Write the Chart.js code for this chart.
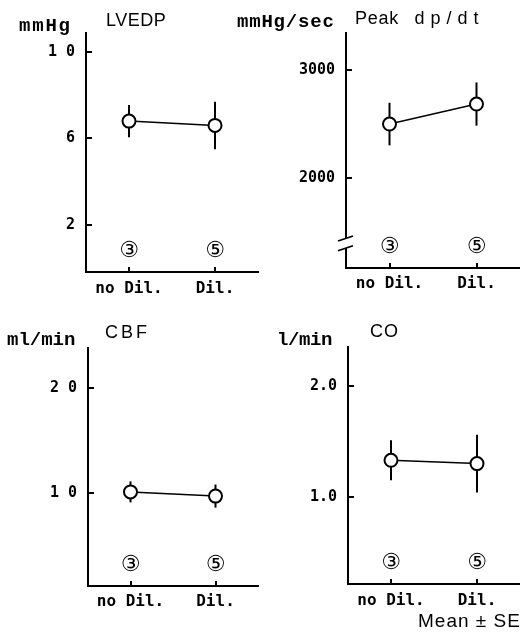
<!DOCTYPE html>
<html><head><meta charset="utf-8">
<script src="https://cdn.jsdelivr.net/npm/chart.js@4/dist/chart.umd.min.js"></script>
<style>
html,body{margin:0;padding:0;background:#fff;width:520px;height:644px;overflow:hidden;position:relative;}
canvas{position:absolute;}
.t{position:absolute;white-space:nowrap;color:#000;line-height:1;}
.sans{font-family:"Liberation Sans",Arial,sans-serif;font-size:18px;}
.mono{font-family:"Liberation Mono","DejaVu Sans Mono",monospace;font-weight:bold;font-size:19px;}
</style></head><body>
<canvas id="c1" width="260" height="300" style="left:0;top:0"></canvas>
<canvas id="c2" width="260" height="300" style="left:260px;top:0"></canvas>
<canvas id="c3" width="260" height="330" style="left:0;top:300px"></canvas>
<canvas id="c4" width="260" height="330" style="left:260px;top:300px"></canvas>

<div class="t mono" style="left:19px;top:17px;letter-spacing:1.8px">mmHg</div>
<div class="t sans" style="left:106px;top:11px;letter-spacing:0.5px">LVEDP</div>
<div class="t mono" style="left:237px;top:13px;letter-spacing:0.8px">mmHg/sec</div>
<div class="t sans" style="left:355px;top:9px;letter-spacing:0.7px">Peak <span style="letter-spacing:6px;margin-left:10px">dp/dt</span></div>
<div class="t mono" style="left:7px;top:331px;letter-spacing:0px">ml/min</div>
<div class="t sans" style="left:105px;top:323px;letter-spacing:3px">CBF</div>
<div class="t mono" style="left:277px;top:331px;letter-spacing:-0.4px">l/min</div>
<div class="t sans" style="left:370px;top:322px;letter-spacing:1px">CO</div>
<div class="t sans" style="left:418px;top:611px;font-size:19px;letter-spacing:1px">Mean ± SE</div>

<script>
const categories = ['no Dil.', 'Dil.'];
const nAnimals = [3, 5];

const lvedpMean = [6.8, 6.6];
const lvedpSE = [0.75, 1.1];
const dpdtMean = [2500, 2685];
const dpdtSE = [197, 200];
const cbfMean = [10.1, 9.7];
const cbfSE = [1.0, 1.1];
const coMean = [1.33, 1.30];
const coSE = [0.18, 0.26];

const lvedpTicks = [2, 6, 10];
const lvedpTickLabels = ['2', '6', '1 0'];
const dpdtTicks = [2000, 3000];
const dpdtTickLabels = ['2000', '3000'];
const cbfTicks = [10, 20];
const cbfTickLabels = ['1 0', '2 0'];
const coTicks = [1.0, 2.0];
const coTickLabels = ['1.0', '2.0'];

const circled = ['\u24EA','\u2460','\u2461','\u2462','\u2463','\u2464','\u2465','\u2466','\u2467','\u2468'];

const decor = {
  id: 'decor',
  beforeDatasetsDraw(chart, args, opts) {
    const ctx = chart.ctx, x = chart.scales.x, y = chart.scales.y;
    ctx.save();
    ctx.strokeStyle = '#000';
    ctx.lineWidth = 2;
    opts.mean.forEach((m, i) => {
      const px = x.getPixelForValue(i);
      ctx.beginPath();
      ctx.moveTo(px, y.getPixelForValue(m + opts.se[i]));
      ctx.lineTo(px, y.getPixelForValue(m - opts.se[i]));
      ctx.stroke();
    });
    ctx.restore();
  },
  afterDraw(chart, args, opts) {
    const ctx = chart.ctx, x = chart.scales.x, y = chart.scales.y, a = chart.chartArea;
    ctx.save();
    ctx.strokeStyle = '#000';
    ctx.lineWidth = 2;
    y.ticks.forEach((t, i) => {
      const py = Math.round(y.getPixelForTick(i));
      ctx.beginPath(); ctx.moveTo(a.left, py); ctx.lineTo(a.left + 6, py); ctx.stroke();
    });
    x.ticks.forEach((t, i) => {
      const px = Math.round(x.getPixelForTick(i));
      ctx.beginPath(); ctx.moveTo(px, a.bottom); ctx.lineTo(px, a.bottom - 5); ctx.stroke();
    });
    ctx.fillStyle = '#000';
    ctx.font = '22px "DejaVu Sans", "Noto Sans CJK JP", sans-serif';
    ctx.textAlign = 'center';
    ctx.textBaseline = 'middle';
    opts.n.forEach((n, i) => {
      ctx.fillText(circled[n], x.getPixelForValue(i), a.bottom - 21);
    });
    if (opts.breakAt) {
      const y1 = y.getPixelForValue(opts.breakAt[0]);
      const y2 = y.getPixelForValue(opts.breakAt[1]);
      ctx.fillStyle = '#fff';
      ctx.fillRect(a.left - 3, y1, 6, y2 - y1);
      ctx.lineWidth = 1.8;
      [y1, y2].forEach(py => {
        ctx.beginPath(); ctx.moveTo(a.left - 8, py + 2.5); ctx.lineTo(a.left + 7, py - 2.5); ctx.stroke();
      });
    }
    ctx.restore();
  }
};

function makeChart(id, mean, se, cfg) {
  const axisGrid = { display: true, drawOnChartArea: false, drawTicks: false };
  const axisBorder = { display: true, color: '#000', width: 2 };
  return new Chart(document.getElementById(id), {
    type: 'line',
    data: {
      labels: categories,
      datasets: [{
        data: mean,
        borderColor: '#000',
        borderWidth: 1.5,
        pointRadius: 6.5,
        pointBorderWidth: 2,
        pointBackgroundColor: '#fff',
        pointBorderColor: '#000',
        tension: 0,
        fill: false
      }]
    },
    options: {
      responsive: false,
      animation: false,
      devicePixelRatio: 1,
      layout: { autoPadding: false, padding: { top: cfg.top, right: cfg.right, left: 0, bottom: 0 } },
      plugins: {
        legend: { display: false },
        tooltip: { enabled: false },
        title: { display: false },
        decor: { mean: mean, se: se, n: nAnimals, breakAt: cfg.breakAt }
      },
      scales: {
        x: {
          type: 'category',
          offset: true,
          grid: axisGrid,
          border: axisBorder,
          ticks: { color: '#000', font: { family: '"DejaVu Sans Mono", monospace', weight: 'bold', size: 16 }, padding: cfg.xpad, maxRotation: 0 },
          afterFit: s => { s.height = cfg.xh; }
        },
        y: {
          type: 'linear',
          min: cfg.min,
          max: cfg.max,
          grid: axisGrid,
          border: axisBorder,
          afterBuildTicks: s => { s.ticks = cfg.ticks.map(v => ({ value: v })); },
          ticks: { color: '#000', font: { family: '"DejaVu Sans Mono", monospace', weight: 'bold', size: 15 }, padding: 11,
                   callback: (v, i) => cfg.labels[i] },
          afterFit: s => { s.width = cfg.yw; }
        }
      }
    },
    plugins: [decor]
  });
}

makeChart('c1', lvedpMean, lvedpSE, { top: 33, right: 2, xh: 28, yw: 86, min: -0.19, max: 10.88, ticks: lvedpTicks, labels: lvedpTickLabels, xpad: 7 });
makeChart('c2', dpdtMean, dpdtSE, { top: 33, right: 0, xh: 32, yw: 86, min: 1167, max: 3343, ticks: dpdtTicks, labels: dpdtTickLabels, xpad: 6, breakAt: [1440, 1350] });
makeChart('c3', cbfMean, cbfSE, { top: 48, right: 2, xh: 44, yw: 88, min: 1.14, max: 23.8, ticks: cbfTicks, labels: cbfTickLabels, xpad: 6 });
makeChart('c4', coMean, coSE, { top: 47, right: 0, xh: 46, yw: 88, min: 0.216, max: 2.35, ticks: coTicks, labels: coTickLabels, xpad: 7 });
</script>
</body></html>
